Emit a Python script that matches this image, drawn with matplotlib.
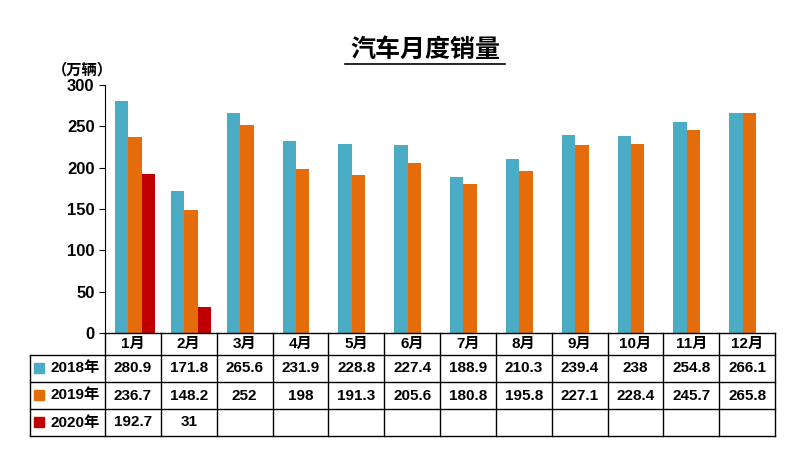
import matplotlib.pyplot as plt
import numpy as np

plt.rcParams['font.family'] = ['Liberation Sans', 'Noto Sans CJK SC']

months = ['1月', '2月', '3月', '4月', '5月', '6月', '7月', '8月', '9月', '10月', '11月', '12月']
s2018 = [280.9, 171.8, 265.6, 231.9, 228.8, 227.4, 188.9, 210.3, 239.4, 238, 254.8, 266.1]
s2019 = [236.7, 148.2, 252, 198, 191.3, 205.6, 180.8, 195.8, 227.1, 228.4, 245.7, 265.8]
s2020 = [192.7, 31]
labels = ['2018年', '2019年', '2020年']
colors = ['#4BACC6', '#E46C0A', '#C00000']

W, H = 800, 465
fig = plt.figure(figsize=(8, 4.65), dpi=100)
ax = fig.add_axes([105 / W, (H - 333) / H, 670 / W, 248 / H])

x = np.arange(len(months))
ax.bar(x - 0.20, s2018, 0.24, color=colors[0])
ax.bar(x + 0.04, s2019, 0.24, color=colors[1])
ax.bar(x[:len(s2020)] + 0.28, s2020, 0.24, color=colors[2])
ax.set_xlim(-0.5, 11.5)
ax.set_ylim(0, 300)
ax.set_yticks(range(0, 301, 50))
ax.tick_params(axis='y', labelsize=12, length=4)
for t in ax.get_yticklabels():
    t.set_fontweight('bold')
ax.set_xticks([])
for s in ['top', 'right', 'bottom']:
    ax.spines[s].set_visible(False)

fig.text(425 / W, 1 - 50 / H, '汽车月度销量', ha='center', va='center', fontsize=18,
         fontweight='bold')
fig.lines.append(plt.Line2D([345 / W, 505 / W], [1 - 64 / H, 1 - 64 / H], color='k', lw=1.2,
                            transform=fig.transFigure))
fig.text(82 / W, 1 - 70 / H, '（万辆）', ha='center', va='center', fontsize=11, fontweight='bold')

# table
tx = fig.add_axes([30 / W, (H - 437) / H, 746 / W, 104 / H])
tx.set_xlim(30, 776)
tx.set_ylim(437, 333)
tx.axis('off')
cw = 670 / 12
rows_y = [333, 355, 382, 409, 436]
kw = dict(color='k', lw=1, clip_on=False)
for yy in rows_y:
    tx.plot([105 if yy == 333 else 30, 775], [yy, yy], **kw)
tx.plot([30, 30], [355, 436], **kw)
for i in range(13):
    xx = 105 + i * cw
    tx.plot([xx, xx], [333, 436], **kw)
for i, m in enumerate(months):
    tx.text(105 + (i + 0.5) * cw, 344, m, ha='center', va='center', fontsize=11, fontweight='bold')
for r, (lab, vals, c) in enumerate(zip(labels, [s2018, s2019, s2020], colors)):
    yc = (rows_y[r + 1] + rows_y[r + 2]) / 2
    tx.add_patch(plt.Rectangle((34, yc - 5), 10, 10, color=c))
    tx.text(75, yc, lab, ha='center', va='center', fontsize=11, fontweight='bold')
    for i, v in enumerate(vals):
        tx.text(105 + (i + 0.5) * cw, yc, f'{v:g}', ha='center', va='center', fontsize=11,
                fontweight='bold')

fig.savefig('out.png')
